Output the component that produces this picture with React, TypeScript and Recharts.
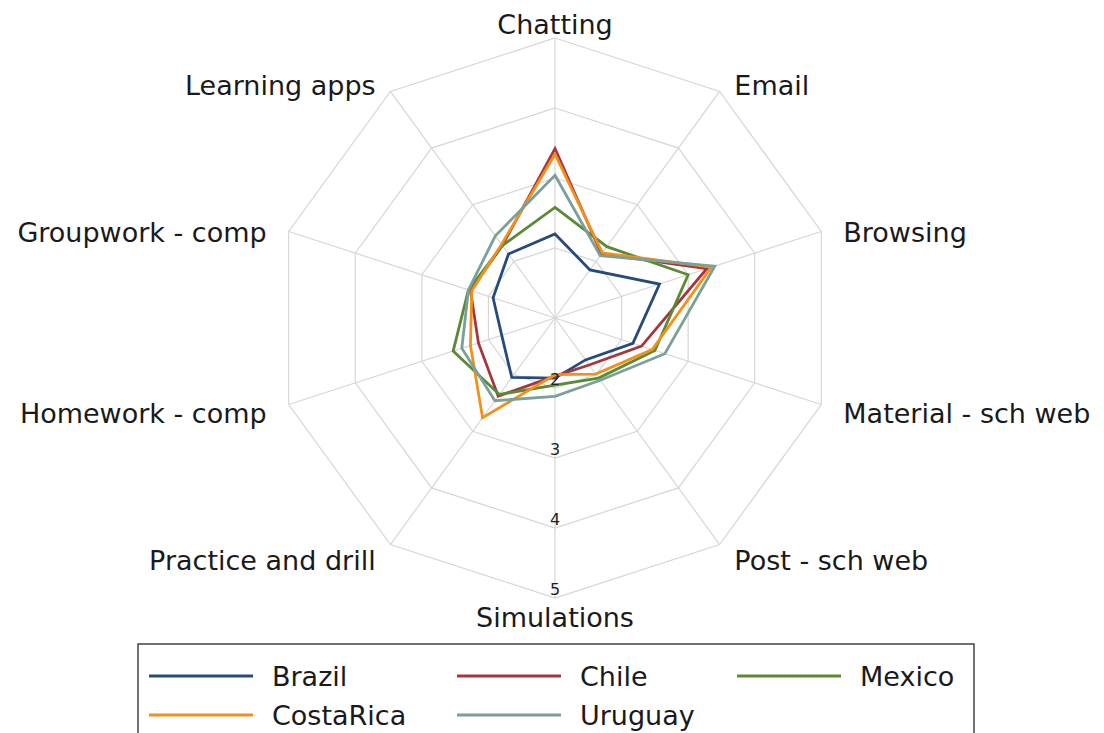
import React from 'react';
import { RadarChart, Radar, PolarGrid, PolarAngleAxis, PolarRadiusAxis, Legend } from 'recharts';

const categories = [
  'Chatting',
  'Email',
  'Browsing',
  'Material - sch web',
  'Post - sch web',
  'Simulations',
  'Practice and drill',
  'Homework - comp',
  'Groupwork - comp',
  'Learning apps',
];

const brazil = [2.2, 1.85, 2.57, 2.17, 1.74, 1.86, 2.05, 1.8, 1.93, 2.13];
const chile = [3.42, 2.13, 3.28, 2.3, 1.83, 1.83, 2.38, 2.15, 2.27, 2.28];
const mexico = [2.58, 2.26, 3.0, 2.5, 2.06, 1.96, 2.35, 2.53, 2.3, 2.28];
const costaRica = [3.34, 2.15, 3.35, 2.46, 1.99, 1.81, 2.76, 2.27, 2.25, 2.3];
const uruguay = [3.04, 2.1, 3.4, 2.65, 2.1, 2.12, 2.46, 2.4, 2.3, 2.45];

const radiusTicks = [1, 2, 3, 4, 5];

const series = [
  { key: 'Brazil', color: '#264b7b' },
  { key: 'Chile', color: '#a5363f' },
  { key: 'Mexico', color: '#5a8a36' },
  { key: 'CostaRica', color: '#f2901a' },
  { key: 'Uruguay', color: '#7b9f99' },
];

const data = categories.map((name, i) => ({
  name,
  Brazil: brazil[i],
  Chile: chile[i],
  Mexico: mexico[i],
  CostaRica: costaRica[i],
  Uruguay: uruguay[i],
}));

const FONT = '"DejaVu Sans", sans-serif';
const CX = 547;
const CY = 310;
const R = 280;

const AngleTick = (props: any) => {
  const { payload } = props;
  const a = (payload.coordinate * Math.PI) / 180;
  const cos = Math.cos(a);
  const sin = Math.sin(a);
  let x = CX + (R + 20) * cos;
  let y = CY - (R + 14) * sin + 5;
  let anchor = 'middle';
  if (cos > 0.01) {
    anchor = 'start';
    x += 3;
  } else if (cos < -0.01) {
    anchor = 'end';
    x -= 3;
  }
  if (sin > 0.99) y = CY - R - 14;
  return (
    <text x={x} y={y} textAnchor={anchor} dominantBaseline="central" fontFamily={FONT} fontSize={27} fill="#1a1a1a">
      {payload.value}
    </text>
  );
};

const RadiusTick = (props: any) => {
  const { x, y, payload } = props;
  if (payload.value === 1) return null;
  return (
    <text x={x} y={y - 9} textAnchor="middle" dominantBaseline="central" style={{ fontFamily: FONT, fontSize: 16 }} fill="#222">
      {payload.value}
    </text>
  );
};

const LegendBox = () => {
  const cols = [12, 320, 600];
  const textOff = 123;
  const rows = [33, 72];
  return (
    <svg width={838} height={90} style={{ display: 'block' }}>
      <path d="M1,90 L1,1 L837,1 L837,90" fill="none" stroke="#444" strokeWidth={1.5} />
      {series.map((s, i) => {
        const cx = cols[i % 3];
        const cy = rows[Math.floor(i / 3)];
        return (
          <g key={s.key}>
            <line x1={cx} x2={cx + 104} y1={cy} y2={cy} stroke={s.color} strokeWidth={2.8} />
            <text x={cx + textOff} y={cy} dominantBaseline="central" fontFamily={FONT} fontSize={27} fill="#1a1a1a">
              {s.key}
            </text>
          </g>
        );
      })}
    </svg>
  );
};

export default function App() {
  return (
    <div style={{ width: 1088, height: 725 }}>
      <style>{'html, body { overflow: hidden; }'}</style>
      <RadarChart width={1088} height={725} data={data} cx={CX} cy={CY} outerRadius={R} margin={{ top: 0, right: 0, bottom: 0, left: 0 }}>
        <PolarGrid stroke="#d6d6d6" strokeWidth={1.2} />
        <PolarAngleAxis dataKey="name" tick={<AngleTick />} tickLine={false} axisLine={false} />
        <PolarRadiusAxis
          angle={-90}
          domain={[1, 5]}
          ticks={radiusTicks as any}
          tickCount={5}
          axisLine={false}
          tickLine={false}
          tick={<RadiusTick />}
        />
        {series.map((s) => (
          <Radar
            key={s.key}
            dataKey={s.key}
            name={s.key}
            stroke={s.color}
            strokeWidth={2.8}
            fill="none"
            fillOpacity={0}
            dot={false}
            isAnimationActive={false}
          />
        ))}
        <Legend
          content={() => <LegendBox />}
          wrapperStyle={{ position: 'absolute', left: 129, top: 635, width: 838, height: 90 }}
        />
      </RadarChart>
    </div>
  );
}
